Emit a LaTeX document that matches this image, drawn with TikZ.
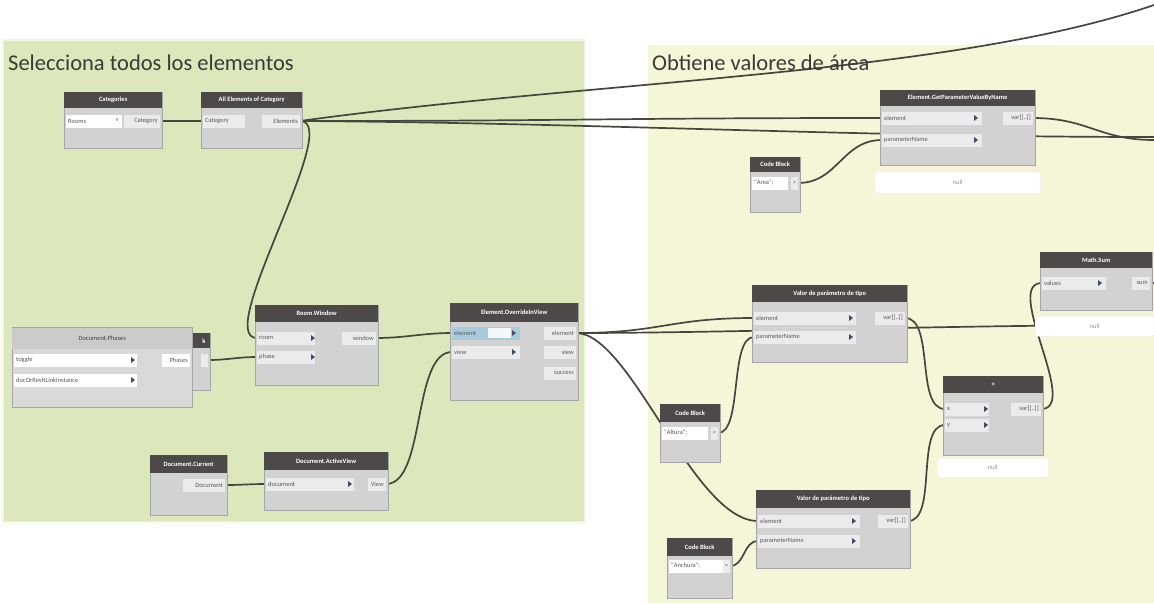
\documentclass[tikz,border=0pt]{standalone}
\usepackage{fontspec}
\setmainfont{Carlito}
\newfontfamily\nodefont{Carlito}
\definecolor{grpgreen}{HTML}{DCE8BC}
\definecolor{grpyellow}{HTML}{F5F5D8}
\definecolor{headdark}{HTML}{4E4949}
\definecolor{bodygray}{HTML}{D2D2D2}
\definecolor{rowfill}{HTML}{EBEBEB}
\definecolor{wirecol}{HTML}{45473F}
\definecolor{tricol}{HTML}{3F4E66}
\definecolor{titlecol}{HTML}{3A3A36}
\definecolor{selblue}{HTML}{A7CBDD}
\definecolor{phasehead}{HTML}{CBCBCB}
\definecolor{phasebody}{HTML}{D9D9D9}
\pgfdeclarelayer{grp}
\pgfdeclarelayer{wir}
\pgfsetlayers{grp,wir,main}
\newcommand\headfont{\nodefont\fontsize{6.5}{7}\selectfont\bfseries}
\newcommand\portfont{\nodefont\fontsize{6.5}{7}\selectfont}
\newcommand\grptitlefont{\fontsize{22.5}{25}\selectfont}
\newcommand\dynnode[7]{%
  \node[dbody, minimum width=#4pt, minimum height=#5pt, anchor=north west] (#1) at (#2,#3) {};
  \node[dhead, minimum width=#4pt, minimum height=#6pt, anchor=north west] (#1-h) at (#2,#3) {#7};}
\newcommand\porttri[2]{\fill[tricol] (#1-2,#2-3) -- (#1+2,#2) -- (#1-2,#2+3) -- cycle;}
\begin{document}
\begin{tikzpicture}[x=1pt,y=-1pt,
  dbody/.style={draw=black!35, fill=bodygray, inner sep=0pt, line width=0.6pt},
  dhead/.style={fill=headdark, text=white, font=\headfont, inner sep=0pt},
  inrow/.style={fill=rowfill, anchor=west, inner xsep=2pt, inner ysep=0pt, minimum height=13pt, align=left, font=\portfont, text=black!65},
  outrow/.style={fill=rowfill, anchor=east, inner xsep=2pt, inner ysep=0pt, minimum height=13pt, align=right, font=\portfont, text=black!65},
  preview/.style={fill=white, draw=black!8, rounded corners=2pt, anchor=north west, inner xsep=4pt, inner ysep=0pt, align=left, font=\portfont, text=black!40},
  wire/.style={draw=wirecol, line width=1.7pt},
  grouptitle/.style={font=\grptitlefont, text=titlecol, anchor=base west, inner sep=0pt}]
\useasboundingbox (0,0) rectangle (1154,603);
\begin{pgfonlayer}{grp}
\fill[white] (0,0) rectangle (1154,603);
\fill[grpgreen, draw=white!60!grpgreen, line width=1.5pt] (3,40) rectangle (585,522);
\fill[grpyellow] (648,45) rectangle (1154,603);
\end{pgfonlayer}
\node[grouptitle] (t1) at (8,70) {Selecciona todos los elementos};
\node[grouptitle] (t2) at (652,70) {Obtiene valores de área};

% Categories
\dynnode{cat}{64}{92}{98}{56}{16}{Categories}
\node[inrow, fill=white, text width=52pt] (catDrop) at (66,121) {Rooms};
\node[font=\portfont, text=black!60, inner sep=0pt] (catV) at (117,120) {v};
\node[outrow, text width=32pt] (catOut) at (160,121) {Category};
% All Elements of Category
\dynnode{ae}{201}{92}{101}{56}{16}{All Elements of Category}
\node[inrow, text width=38pt] (aeIn) at (203,121) {Category};
\node[outrow, text width=34pt] (aeOut) at (300,121) {Elements};
% Room
\dynnode{rw}{255}{305}{123}{80}{17}{Room.Window}
\node[inrow, text width=54pt] (rwRoom) at (257,338) {room};
\node[inrow, text width=54pt] (rwPhase) at (257,357) {phase};
\porttri{313}{338}\porttri{313}{357}
\node[outrow, text width=30pt] (rwOut) at (376,338) {window};
% behind node
\dynnode{bk}{180}{333}{30}{57}{15}{}
\node[font=\headfont, text=white, inner sep=0pt] (bkK) at (204,341) {k};
\node[outrow, text width=3pt] (bkOut) at (208,360) {};
% Document.Phases
\node[dbody, fill=phasebody, minimum width=180pt, minimum height=80pt, anchor=north west] (dp) at (12,327) {};
\node[dhead, fill=phasehead, text=black!75, font=\portfont, minimum width=180pt, minimum height=21pt, anchor=north west] (dp-h) at (12,328) {Document.Phases};
\node[inrow, fill=white, text width=119pt] (dpToggle) at (14,360) {toggle};
\node[inrow, fill=white, text width=119pt] (dpDoc) at (14,380) {docOrRevitLinkInstance};
\porttri{133}{360}\porttri{133}{380}
\node[outrow, fill=white, text width=24pt] (dpOut) at (190,360) {Phases};
% Element in view
\dynnode{ev}{450}{303}{128}{97}{19}{Element.OverrideInView}
\node[inrow, fill=selblue, text width=64pt] (evElem) at (452,333) {element};
\fill[white!85!selblue] (488,328) rectangle (511,338);
\node[inrow, text width=64pt] (evView) at (452,352) {view};
\porttri{514}{333}\porttri{514}{352}
\node[outrow, text width=28pt] (evOutElem) at (576,333) {element};
\node[outrow, text width=28pt] (evOutView) at (576,352) {view};
\node[outrow, text width=28pt] (evOutSucc) at (576,373) {success};
% Document.Current
\dynnode{dc}{150}{455}{77}{60}{18}{Document.Current}
\node[outrow, text width=38pt] (dcOut) at (225,485) {Document};
% Document.ActiveView
\dynnode{av}{264}{452}{124}{58}{18}{Document.ActiveView}
\node[inrow, text width=84pt] (avIn) at (266,484) {document};
\porttri{350}{484}
\node[outrow, text width=14pt] (avOut) at (386,484) {View};
% GetParameterValueByName
\dynnode{gp}{880}{90}{155}{75}{16}{Element.GetParameterValueByName}
\node[inrow, text width=96pt] (gpElem) at (882,118) {element};
\node[inrow, text width=96pt] (gpParam) at (882,140) {parameterName};
\porttri{976}{118}\porttri{976}{140}
\node[outrow, text width=26pt] (gpOut) at (1033,118) {var[]..[]};
\node[preview, minimum width=165pt, minimum height=21pt] (gpPrev) at (875,172) {null};
% Code Block Area
\dynnode{cbA}{750}{157}{50}{55}{15}{Code Block}
\node[inrow, fill=white, text width=32pt] (cbAText) at (752,183) {"Area";};
\node[outrow, text width=3pt] (cbAOut) at (798,183) {>};
% Math.Sum
\dynnode{ms}{1040}{252}{112}{58}{16}{Math.Sum}
\node[inrow, text width=60pt] (msIn) at (1042,283) {values};
\porttri{1100}{283}
\node[outrow, text width=14pt] (msOut) at (1150,283) {sum};
\node[preview, minimum width=119pt, minimum height=20pt] (msPrev) at (1035,316) {null};
% Valor top
\dynnode{vt}{752}{285}{155}{77}{17}{Valor de parámetro de tipo}
\node[inrow, text width=98pt] (vtElem) at (754,318) {element};
\node[inrow, text width=98pt] (vtParam) at (754,337) {parameterName};
\porttri{851}{318}\porttri{851}{337}
\node[outrow, text width=26pt] (vtOut) at (905,318) {var[]..[]};
% Code Block Altura
\dynnode{cbB}{660}{404}{60}{58}{18}{Code Block}
\node[inrow, fill=white, text width=42pt] (cbBText) at (662,433) {"Altura";};
\node[outrow, text width=3pt] (cbBOut) at (718,433) {>};
% Plus
\dynnode{pl}{943}{376}{100}{79}{17}{+}
\node[inrow, text width=40pt] (plX) at (945,409) {x};
\node[inrow, text width=40pt] (plY) at (945,425) {y};
\porttri{986}{409}\porttri{986}{425}
\node[outrow, text width=26pt] (plOut) at (1041,409) {var[]..[]};
\node[preview, minimum width=111pt, minimum height=19pt] (plPrev) at (937,458) {null};
% Valor bottom
\dynnode{vb}{756}{490}{154}{78}{18}{Valor de parámetro de tipo}
\node[inrow, text width=98pt] (vbElem) at (758,521) {element};
\node[inrow, text width=98pt] (vbParam) at (758,541) {parameterName};
\porttri{854}{521}\porttri{854}{541}
\node[outrow, text width=26pt] (vbOut) at (908,521) {var[]..[]};
% Code Block Anchura
\dynnode{cbC}{667}{538}{65}{60}{18}{Code Block}
\node[inrow, fill=white, text width=50pt] (cbCText) at (669,566) {"Anchura";};
\node[outrow, text width=3pt] (cbCOut) at (730,566) {>};

\coordinate (edgeA) at (1154,5);
\coordinate (edgeB) at (1154,137);
\coordinate (edgeC) at (1154,140);
\coordinate (edgeD) at (1154,325);
\coordinate (edgeE) at (1154,283);

\begin{pgfonlayer}{wir}
\draw[wire] (catOut.east) -- (aeIn.west);
\draw[wire] (aeOut.east) .. controls +(45,0) and +(-45,0) .. (rwRoom.west);
\draw[wire] (aeOut.east) .. controls +(280,0) and +(-280,0) .. (gpElem.west);
\draw[wire] (aeOut.east) .. controls +(300,2) and +(-300,0) .. (edgeB);
\draw[wire] (aeOut.east) .. controls +(298,-41) and +(-204,70) .. (edgeA);
\draw[wire] (cbAOut.east) .. controls +(40,0) and +(-40,0) .. (gpParam.west);
\draw[wire] (gpOut.east) .. controls +(55,0) and +(-55,0) .. (edgeC);
\draw[wire] (rwOut.east) .. controls +(30,0) and +(-30,0) .. (evElem.west);
\draw[wire] (bkOut.east) .. controls +(20,0) and +(-20,0) .. (rwPhase.west);
\draw[wire] (dcOut.east) .. controls +(18,0) and +(-18,0) .. (avIn.west);
\draw[wire] (avOut.east) .. controls +(40,0) and +(-40,0) .. (evView.west);
\draw[wire] (evOutElem.east) .. controls +(85,0) and +(-85,0) .. (vtElem.west);
\draw[wire] (evOutElem.east) .. controls +(150,0) and +(-200,0) .. (edgeD);
\draw[wire] (evOutElem.east) .. controls +(55,0) and +(-65,0) .. (vbElem.west);
\draw[wire] (cbBOut.east) .. controls +(25,0) and +(-25,0) .. (vtParam.west);
\draw[wire] (cbCOut.east) .. controls +(15,0) and +(-15,0) .. (vbParam.west);
\draw[wire] (vtOut.east) .. controls +(30,0) and +(-30,0) .. (plX.west);
\draw[wire] (vbOut.east) .. controls +(30,0) and +(-30,0) .. (plY.west);
\draw[wire] (plOut.east) .. controls +(40,0) and +(-40,0) .. (msIn.west);
\draw[wire] (msOut.east) -- (edgeE);
\end{pgfonlayer}
\end{tikzpicture}
\end{document}
